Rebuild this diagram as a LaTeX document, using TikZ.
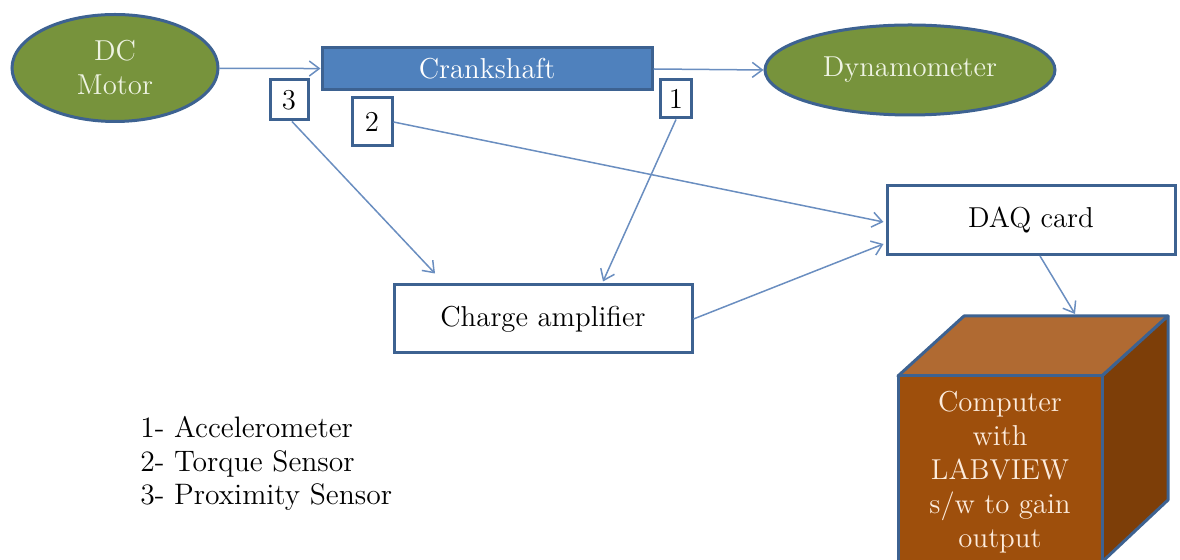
\documentclass[tikz,border=0pt]{standalone}
\usepackage{fontspec}
\usepackage{tikz}
\usetikzlibrary{shapes.geometric,arrows.meta,positioning,calc}
\definecolor{motorG}{HTML}{77933C}
\definecolor{edgeB}{HTML}{3D6291}
\definecolor{shaftB}{HTML}{4F81BD}
\definecolor{wireB}{HTML}{6A8EC0}
\definecolor{paleT}{HTML}{EEF3E2}
\definecolor{pcFront}{HTML}{9E4F0C}
\definecolor{pcTop}{HTML}{B06A32}
\definecolor{pcSide}{HTML}{7D3E08}
\definecolor{pcText}{HTML}{FCEBDC}

\begin{document}
\begin{tikzpicture}[
  x=0.5pt, y=-0.5pt,
  font=\fontsize{14.4}{17}\selectfont,
  unit/.style={ellipse, draw=edgeB, line width=1.5pt, fill=motorG,
               text=paleT, inner sep=0pt, align=center},
  block/.style={rectangle, draw=edgeB, line width=1.5pt, fill=white,
                inner sep=0pt, align=center},
  tag/.style={rectangle, draw=edgeB, line width=1.5pt, fill=white,
              inner sep=0pt},
  arr/.style={-{Straight Barb[length=5pt, width=7.5pt]}, line width=0.75pt, wireB}
]
\useasboundingbox (0,0) rectangle (1180,560);

% ---- mechanical line ----
\node[unit, minimum width=103pt, minimum height=53.5pt] (motor) at (115,68)
  {DC\\Motor};
\node[rectangle, draw=edgeB, line width=1.5pt, fill=shaftB, text=white,
      minimum width=165pt, minimum height=21pt, inner sep=0pt] (crank) at (487,69)
  {Crankshaft};
\node[unit, minimum width=145pt, minimum height=45pt] (dyno) at (910,70)
  {Dynamometer};

% ---- sensors ----
\node[tag, minimum width=19pt, minimum height=20pt] (s3) at (289,100) {3};
\node[tag, minimum width=20pt, minimum height=24pt] (s2) at (372,122) {2};
\node[tag, minimum width=15.5pt, minimum height=19pt] (s1) at (676,99) {1};

% ---- signal chain ----
\node[block, minimum width=144pt, minimum height=34.5pt] (daq) at (1031,220)
  {DAQ card};
\node[block, minimum width=149pt, minimum height=34pt] (charge) at (543,319)
  {Charge amplifier};

% ---- computer cube ----
\coordinate (ftl) at (898,376);
\coordinate (ftr) at (1102,376);
\coordinate (fbr) at (1102,562);
\coordinate (fbl) at (898,562);
\coordinate (btl) at (964,316);
\coordinate (btr) at (1168,316);
\coordinate (bbr) at (1168,500);
\filldraw[fill=pcTop, draw=edgeB, line width=1.5pt, line join=round]
  (ftl) -- (btl) -- (btr) -- (ftr) -- cycle;
\filldraw[fill=pcSide, draw=edgeB, line width=1.5pt, line join=round]
  (ftr) -- (btr) -- (bbr) -- (fbr) -- cycle;
\filldraw[fill=pcFront, draw=edgeB, line width=1.5pt, line join=round]
  (ftl) rectangle (fbr);
\node[text=pcText, align=center, inner sep=0pt] (pc) at (1000,472)
  {Computer\\with\\LABVIEW\\s/w to gain\\output};
\coordinate (pcin) at (1075,314);

% ---- legend ----
\node[align=left, anchor=north west, inner sep=0pt,
      font=\fontsize{14.8}{16.8}\selectfont] (key) at (140,416)
  {1- Accelerometer\\2- Torque Sensor\\3- Proximity Sensor};

% arrows
\draw[arr] (motor) -- (crank);
\draw[arr] (crank.east) -- (dyno.west);
\draw[arr] ([xshift=1.5pt]s3.south) -- ([xshift=-54pt, yshift=5pt]charge.north);
\draw[arr] (s1.south) -- ([xshift=30pt, yshift=1pt]charge.north);
\draw[arr] (s2.east) -- ([xshift=-1pt, yshift=-1pt]daq.west);
\draw[arr] (charge.east) -- ([xshift=-1pt, yshift=6pt]daq.south west);
\draw[arr] ([xshift=4.5pt]daq.south) -- (pcin);
\end{tikzpicture}
\end{document}
